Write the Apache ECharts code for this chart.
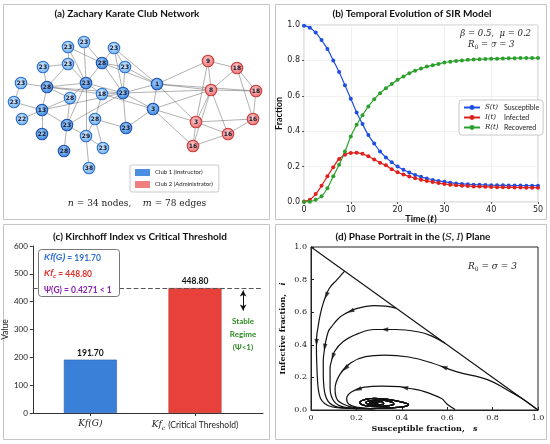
<!DOCTYPE html>
<html><head><meta charset="utf-8">
<script src="https://cdn.jsdelivr.net/npm/echarts@6/dist/echarts.min.js"></script>
<style>html,body{margin:0;padding:0;background:#fff}#c{width:550px;height:444px}</style>
</head><body><div id="c"></div>
<script>
// ---------- (a) network ----------
const nodeLabels = ['23','23','23','23','23','28','23','23','28','23','18','23','1','23','28','13','3','22','28','23','23','22','29','23','28','38','9','18','8','18','3','16','16','16'];
const nodeClub = [0,0,0,0,0,0,0,0,0,0,0,0,0,0,0,0,0,0,0,0,0,0,0,0,0,0,1,1,1,1,1,1,1,1];
const nodeDark = [0,0,0,0,0,1,0,0,1,1,0,1,1,0,0,1,1,0,0,1,1,1,0,0,1,0,0,0,0,0,0,0,0,0];
const layoutX = [84,68,114,43,68,102,125,21,47,86,102,123,157,14,70,42,153,22,95,67,126,42,86,103,64,89,208,237,211,256,196,253,228,193];
const layoutY = [42,47,48,67,64,63,67,83,87,83,94,93,84,102,98,110,109,119,119,125,128,134,136,148,151,168,61,68,90,91,122,119,134,146];
const edges = [[0,5],[0,9],[1,5],[1,9],[1,4],[2,5],[2,6],[2,11],[3,8],[3,4],[4,9],[4,8],[5,6],[5,9],[5,11],[5,12],[6,11],[6,12],[7,8],[7,13],[8,9],[8,14],[8,15],[8,11],[8,10],[9,10],[9,11],[9,14],[9,19],[9,22],[10,11],[10,18],[11,12],[11,16],[11,20],[11,19],[13,15],[14,15],[14,19],[15,17],[15,21],[15,19],[15,11],[18,22],[18,23],[18,20],[19,24],[19,22],[22,25],[22,23],[12,16],[16,20],[16,10],[12,2],
[12,26],[12,28],[12,30],[12,29],[16,28],[16,30],[16,33],[11,28],
[26,28],[26,30],[26,27],[27,28],[27,29],[27,31],[28,29],[28,30],[28,32],[28,33],[29,31],[30,32],[30,33],[31,32],[32,33],[30,31]];
const clubNames = ['Club 1 (Instructor)','Club 2 (Administrator)'];

// ---------- (b) SIR ----------
const timeT = [0,1.25,2.5,3.75,5,6.25,7.5,8.75,10,11.25,12.5,13.75,15,16.25,17.5,18.75,20,21.25,22.5,23.75,25,26.25,27.5,28.75,30,31.25,32.5,33.75,35,36.25,37.5,38.75,40,41.25,42.5,43.75,45,46.25,47.5,48.75,50];
const susS = [0.996,0.985,0.957,0.915,0.865,0.80,0.735,0.66,0.583,0.506,0.44,0.378,0.33,0.286,0.252,0.224,0.2,0.182,0.166,0.153,0.142,0.133,0.125,0.119,0.114,0.109,0.105,0.102,0.1,0.098,0.097,0.096,0.095,0.094,0.094,0.093,0.093,0.093,0.092,0.092,0.092];
const infI = [0.003,0.013,0.045,0.092,0.145,0.197,0.243,0.267,0.277,0.278,0.272,0.258,0.24,0.222,0.207,0.185,0.168,0.155,0.144,0.134,0.126,0.119,0.113,0.107,0.102,0.098,0.095,0.092,0.09,0.088,0.087,0.086,0.085,0.084,0.083,0.083,0.082,0.082,0.081,0.081,0.081];
const recR = [0,0.002,0.013,0.032,0.078,0.145,0.21,0.285,0.37,0.436,0.49,0.54,0.58,0.615,0.643,0.667,0.69,0.709,0.727,0.742,0.754,0.765,0.773,0.78,0.788,0.793,0.797,0.8,0.803,0.805,0.807,0.808,0.809,0.81,0.811,0.812,0.812,0.813,0.813,0.813,0.814];
const sirNames = ['S','I','R'];
const sirLabels = ['Susceptible','Infected','Recovered'];

// ---------- (c) Kirchhoff ----------
const kfCats = ['Kf(G)','Kf_c (Critical Threshold)'];
const kfValues = [191.70, 448.80];
const psiValue = 0.4271;

// ---------- (d) phase portrait ----------
const spiralTail = [[0.26,0.009],[0.32,0.011],[0.38,0.016],[0.42,0.024],[0.43,0.033],[0.41,0.045],[0.37,0.058],[0.32,0.068],[0.28,0.072],[0.25,0.068],[0.225,0.058],[0.215,0.047],[0.22,0.036],[0.24,0.027],[0.27,0.022],[0.31,0.022],[0.345,0.027],[0.365,0.036],[0.36,0.046],[0.34,0.054],[0.31,0.06],[0.28,0.061],[0.255,0.056],[0.242,0.048],[0.245,0.04],[0.26,0.034],[0.28,0.031],[0.305,0.033],[0.32,0.039],[0.318,0.046],[0.305,0.051],[0.285,0.053],[0.268,0.05],[0.26,0.045],[0.264,0.04],[0.276,0.037],[0.29,0.039],[0.295,0.044],[0.288,0.048],[0.276,0.048],[0.27,0.045],[0.273,0.042],[0.28,0.042]];
const curveA = [[0.148,0.852],[0.115,0.8],[0.08,0.745],[0.055,0.66],[0.04,0.58],[0.03,0.5],[0.025,0.45],[0.024,0.38],[0.025,0.3],[0.028,0.2],[0.032,0.13],[0.042,0.07],[0.06,0.04],[0.09,0.02],[0.14,0.012],[0.2,0.009]];
const curveB = [[0.375,0.625],[0.33,0.637],[0.28,0.64],[0.2,0.622],[0.15,0.59],[0.12,0.56],[0.09,0.51],[0.076,0.48],[0.062,0.4],[0.059,0.37],[0.054,0.3],[0.054,0.235],[0.06,0.11],[0.084,0.04],[0.135,0.014],[0.2,0.009]];
const curveC = [[0.59,0.41],[0.53,0.455],[0.47,0.48],[0.37,0.494],[0.28,0.494],[0.21,0.47],[0.142,0.42],[0.103,0.357],[0.09,0.3],[0.084,0.255],[0.084,0.133],[0.103,0.05],[0.15,0.016],[0.2,0.01]];
const curveD = [[0.993,0.006],[0.93,0.07],[0.868,0.12],[0.78,0.185],[0.64,0.235],[0.53,0.29],[0.43,0.325],[0.325,0.337],[0.24,0.327],[0.176,0.29],[0.128,0.22],[0.106,0.13],[0.117,0.06],[0.164,0.024],[0.21,0.012]];
const curveE = [[0.635,0.003],[0.6,0.035],[0.575,0.07],[0.487,0.118],[0.435,0.132],[0.39,0.143],[0.31,0.147],[0.235,0.14],[0.18,0.112],[0.157,0.07],[0.167,0.035],[0.21,0.016]];
const phaseCurves = [curveA, curveB, curveC, curveD, curveE];
// arrows: [curve index, point index]
const arrowSpots = [[0,2],[0,6],[1,3],[1,8],[2,3],[2,7],[3,4],[3,9],[4,4],[4,7]];
const diagonal = [[0,1],[1,0]];

// ---------- build ----------
const chart = echarts.init(document.getElementById('c'), null, {renderer:'canvas'});
const SERIF = "'DejaVu Serif', 'Liberation Serif', serif";
const SANS = "Lato, 'DejaVu Sans', sans-serif";

const nodes = layoutX.map((x,i)=>{
  const red = nodeClub[i]===1;
  const dark = nodeDark[i]===1;
  const inner = red ? '#fbd0d0' : (dark ? '#a9d0f6' : '#d9ecfc');
  const outer = red ? '#ec6c6c' : (dark ? '#3a86de' : '#6aaeee');
  return {
    name:'n'+i, value:[x, layoutY[i]], category: nodeClub[i],
    itemStyle:{color:{type:'radial',x:0.45,y:0.4,r:0.6,colorStops:[{offset:0,color:inner},{offset:1,color:outer}]},
      borderColor: red ? '#c83a3a' : (dark ? '#1b4fae' : '#2b6fd0'), borderWidth:1.1}
  };
});
const links = edges.map(e=>({source:e[0], target:e[1]}));

const sirColors = ['#1f4ee0','#e0201c','#2ca02c'];
const sirData = [susS, infI, recR];
const kfColors = ['#3a7fd8','#e8403a'];

const phaseSeries = phaseCurves.map(c=>({
  type:'line', xAxisIndex:3, yAxisIndex:3, data:c.concat(spiralTail), showSymbol:false, smooth:0.4,
  lineStyle:{color:'#111', width:1.2}, silent:true, z:3
}));

function titleText(text, x, y){
  return {type:'text', x, y, style:{text, textAlign:'center', textVerticalAlign:'middle',
    font:"bold 10px "+SANS, fill:'#111',
    rich:{m:{fontFamily:SERIF, fontStyle:'italic', fontWeight:'normal', fontSize:10}}}};
}

const option = {
  animation:false,
  backgroundColor:'#fff',
  textStyle:{fontFamily:SANS},
  grid:[
    {left:0, top:0, width:267, height:216, show:false},
    {left:304, top:25, width:234, height:177, show:true, borderColor:'#c8c8c8', borderWidth:1},
    {left:31, top:246, width:232, height:167, show:false},
    {left:311, top:247, width:227, height:163, show:true, borderColor:'#222', borderWidth:1}
  ],
  xAxis:[
    {gridIndex:0, type:'value', min:0, max:267, show:false},
    {gridIndex:1, type:'value', min:0, max:50, interval:10,
      name:'Time ({m|t})', nameLocation:'middle', nameGap:13,
      nameTextStyle:{fontWeight:'bold', fontSize:9, color:'#111', rich:{m:{fontFamily:SERIF, fontStyle:'italic', fontWeight:'bold', fontSize:9}}},
      axisLine:{show:false, onZero:false}, axisTick:{show:true, length:2, lineStyle:{color:'#555'}},
      axisLabel:{fontSize:8, color:'#222', margin:4, fontFamily:"'DejaVu Sans', sans-serif"},
      splitLine:{show:true, lineStyle:{color:'#ececec', width:0.8}}},
    {gridIndex:2, type:'value', min:-0.55, max:1.65,
      axisLine:{show:true, onZero:false, lineStyle:{color:'#333'}},
      axisTick:{show:true, customValues:[0,1], length:3},
      axisLabel:{customValues:[0,1], margin:6, color:'#222',
        formatter:v=> Math.abs(v)<1e-6 ? '{m|Kf(G)}' : '{m|Kf}{s|c} {t|(Critical Threshold)}',
        rich:{m:{fontFamily:SERIF, fontStyle:'italic', fontSize:9, color:'#222'},
              s:{fontFamily:SERIF, fontStyle:'italic', fontSize:6, color:'#222', verticalAlign:'bottom', padding:[6,0,0,0]},
              t:{fontFamily:SANS, fontSize:8.5, color:'#222'}}},
      splitLine:{show:false}},
    {gridIndex:3, type:'value', min:0, max:1, interval:0.2,
      name:'Susceptible fraction,   {m|s}', nameLocation:'middle', nameGap:15,
      nameTextStyle:{fontFamily:SERIF, fontWeight:'bold', fontSize:8, color:'#111', rich:{m:{fontFamily:SERIF, fontStyle:'italic', fontWeight:'bold', fontSize:8}}},
      axisLine:{show:true, onZero:false, lineStyle:{color:'#222'}},
      axisTick:{inside:true, length:3, lineStyle:{color:'#222'}},
      axisLabel:{fontFamily:SERIF, fontSize:8, color:'#222', margin:4, formatter:v=> v===0 ? '0' : v.toFixed(1)},
      splitLine:{show:false}}
  ],
  yAxis:[
    {gridIndex:0, type:'value', min:0, max:216, inverse:true, show:false},
    {gridIndex:1, type:'value', min:0, max:1, interval:0.2,
      name:'Fraction', nameLocation:'middle', nameGap:19,
      nameTextStyle:{fontWeight:'bold', fontSize:9, color:'#111'},
      axisLine:{show:false, onZero:false}, axisTick:{show:true, length:2, lineStyle:{color:'#555'}},
      axisLabel:{fontSize:8, color:'#222', margin:4, fontFamily:"'DejaVu Sans', sans-serif", formatter:v=>v.toFixed(1)},
      splitLine:{show:true, lineStyle:{color:'#ececec', width:0.8}}},
    {gridIndex:2, type:'value', min:0, max:600, interval:100,
      name:'Value', nameLocation:'middle', nameGap:21,
      nameTextStyle:{fontSize:8.5, color:'#222'},
      axisLine:{show:true, onZero:false, lineStyle:{color:'#333'}},
      axisTick:{show:true, length:3},
      axisLabel:{fontSize:8, color:'#222', margin:5},
      splitLine:{show:false}},
    {gridIndex:3, type:'value', min:0, max:1, interval:0.2,
      name:'Infective fraction,   {m|i}', nameLocation:'middle', nameGap:24,
      nameTextStyle:{fontFamily:SERIF, fontWeight:'bold', fontSize:8, color:'#111', rich:{m:{fontFamily:SERIF, fontStyle:'italic', fontWeight:'bold', fontSize:8}}},
      axisLine:{show:true, onZero:false, lineStyle:{color:'#222'}},
      axisTick:{inside:true, length:3, lineStyle:{color:'#222'}},
      axisLabel:{fontFamily:SERIF, fontSize:8, color:'#222', margin:4, formatter:v=>v.toFixed(1)},
      splitLine:{show:false}}
  ],
  legend:[
    {data:sirNames, left:459, top:100, orient:'vertical', itemGap:3, itemWidth:16, itemHeight:6,
      padding:[4,4,4,4], borderColor:'#c8c8c8', borderWidth:1, borderRadius:3, backgroundColor:'#fff',
      formatter:n=>'{m|'+n+'(t)}{t|'+sirLabels[sirNames.indexOf(n)]+'}',
      textStyle:{fontSize:7, color:'#222', rich:{m:{fontFamily:SERIF, fontStyle:'italic', fontSize:7, width:19}, t:{fontSize:7, fontFamily:SANS}}}},
    {data:clubNames, left:130, top:165, orient:'vertical', itemGap:5, icon:'rect', itemWidth:15, itemHeight:7,
      padding:[4,6,4,5], borderColor:'#bbb', borderWidth:0.8, borderRadius:2,
      textStyle:{fontSize:6, color:'#222'}}
  ],
  series:[
    {type:'graph', coordinateSystem:'cartesian2d', xAxisIndex:0, yAxisIndex:0, layout:'none',
      symbol:'circle', symbolSize:11.5, roam:false, silent:true,
      categories:[{name:clubNames[0], itemStyle:{color:'#4a8fe2', borderColor:'#2b6fd0'}},{name:clubNames[1], itemStyle:{color:'#f08080', borderColor:'#c83a3a'}}],
      data:nodes, links:links,
      lineStyle:{color:'#5a5a5a', opacity:0.6, width:0.8, curveness:0},
      label:{show:true, position:'inside', fontSize:6, fontWeight:'bold', color:'#14142a', fontFamily:"'DejaVu Sans', sans-serif",
        formatter:p=>nodeLabels[p.dataIndex]},
      z:5},
    ...sirNames.map((n,k)=>({
      type:'line', name:n, xAxisIndex:1, yAxisIndex:1, data:timeT.map((t,i)=>[t, sirData[k][i]]),
      symbol:'circle', symbolSize:4, smooth:0.3, showSymbol:true,
      lineStyle:{color:sirColors[k], width:1.2}, itemStyle:{color:sirColors[k]}, z:3
    })),
    {type:'bar', xAxisIndex:2, yAxisIndex:2, barWidth:53,
      data:kfValues.map((v,i)=>({value:[i,v], itemStyle:{color:kfColors[i], borderColor: i===0?'#2a62b0':'#b83028', borderWidth:0.6}})),
      label:{show:true, position:'top', distance:2, fontWeight:'bold', fontSize:8.5, color:'#111', formatter:p=>p.value[1].toFixed(2)},
      markLine:{silent:true, symbol:['none','none'], label:{show:false},
        lineStyle:{type:'dashed', color:'#555', width:1.2},
        data:[{yAxis:kfValues[1]}]}},
    {type:'line', xAxisIndex:2, yAxisIndex:2, data:[], silent:true,
      markLine:{silent:true, symbol:['arrow','arrow'], symbolSize:[5,6], label:{show:false},
        lineStyle:{type:'solid', color:'#111', width:1},
        data:[[{coord:[1.46,440]},{coord:[1.46,368]}]]}},
    {type:'line', xAxisIndex:3, yAxisIndex:3, data:diagonal, showSymbol:false, lineStyle:{color:'#111', width:1.1}, silent:true},
    ...phaseSeries
  ],
  graphic:[
    {type:'rect', shape:{x:3.5,y:4.5,width:266,height:215}, style:{fill:'none', stroke:'#c4c4c4', lineWidth:1}, silent:true},
    {type:'rect', shape:{x:275.5,y:4.5,width:271,height:215}, style:{fill:'none', stroke:'#c4c4c4', lineWidth:1}, silent:true},
    {type:'rect', shape:{x:3.5,y:224.5,width:266,height:215}, style:{fill:'none', stroke:'#c4c4c4', lineWidth:1}, silent:true},
    {type:'rect', shape:{x:275.5,y:224.5,width:271,height:215}, style:{fill:'none', stroke:'#c4c4c4', lineWidth:1}, silent:true},
    titleText('(a) Zachary Karate Club Network', 127, 14),
    titleText('(b) Temporal Evolution of SIR Model', 412, 14),
    titleText('(c) Kirchhoff Index vs Critical Threshold', 140, 237),
    titleText('(d) Phase Portrait in the ({m|S}, {m|I}) Plane', 413, 237),
    {type:'text', x:137, y:204, style:{text:'{m|n} = 34 nodes,    {m|m} = 78 edges', textAlign:'center', textVerticalAlign:'middle',
      font:"9px "+SERIF, fill:'#222', rich:{m:{fontFamily:SERIF, fontStyle:'italic', fontSize:9.5}}}},
    {type:'text', x:531, y:34, style:{text:'β = 0.5,  μ = 0.2', textAlign:'right', textVerticalAlign:'middle',
      font:"italic 8.5px "+SERIF, fill:'#222'}},
    {type:'text', x:468, y:45, style:{text:'{m|R}{s|0}{m| = σ = 3}', textAlign:'left', textVerticalAlign:'middle',
      fill:'#222', rich:{m:{fontFamily:SERIF, fontStyle:'italic', fontSize:8.5}, s:{fontFamily:SERIF, fontSize:6, padding:[5,0,0,0]}}}},
    {type:'text', x:468, y:267, style:{text:'{m|R}{s|0}{m| = σ = 3}', textAlign:'left', textVerticalAlign:'middle',
      fill:'#222', rich:{m:{fontFamily:SERIF, fontStyle:'italic', fontSize:9}, s:{fontFamily:SERIF, fontSize:6, padding:[5,0,0,0]}}}},
    {type:'rect', shape:{x:38.5,y:249.5,width:81,height:47,r:3}, style:{fill:'#fff', stroke:'#777', lineWidth:1}, z:10},
    {type:'text', x:44, y:258, z:11, style:{text:'{i|Kf(G)} = '+kfValues[0].toFixed(2), textVerticalAlign:'middle',
      font:"bold 8.5px "+SANS, fill:'#2f6fd0', rich:{i:{fontStyle:'italic', fontWeight:'bold', fontSize:8.5, fill:'#2f6fd0'}}}},
    {type:'text', x:44, y:274, z:11, style:{text:'{i|Kf}{s|c} = '+kfValues[1].toFixed(2), textVerticalAlign:'middle',
      font:"bold 8.5px "+SANS, fill:'#e0302c', rich:{i:{fontStyle:'italic', fontWeight:'bold', fontSize:8.5, fill:'#e0302c'}, s:{fontStyle:'italic', fontWeight:'bold', fontSize:6, fill:'#e0302c', padding:[5,0,0,0]}}}},
    {type:'text', x:44, y:290, z:11, style:{text:'Ψ(G) = '+psiValue.toFixed(4)+' < 1', textVerticalAlign:'middle',
      font:"bold 8.5px "+SANS, fill:'#8a24b0'}},
    {type:'text', x:243, y:334, style:{text:'Stable\nRegime\n(Ψ<1)', textAlign:'center', textVerticalAlign:'middle', lineHeight:13,
      font:"bold 8px "+SANS, fill:'#2e8b22'}}
  ]
};
chart.setOption(option);

// arrows on phase trajectories, oriented along the curve direction
const arrowData = arrowSpots.map(([ci,pi])=>{
  const c = phaseCurves[ci];
  const p0 = chart.convertToPixel({gridIndex:3}, c[pi]);
  const p1 = chart.convertToPixel({gridIndex:3}, c[pi+1]);
  const dx = p1[0]-p0[0], dy = p1[1]-p0[1];
  const rot = Math.atan2(-dx, -dy)*180/Math.PI;
  return {value:[(c[pi][0]+c[pi+1][0])/2, (c[pi][1]+c[pi+1][1])/2], symbolRotate:rot};
});
chart.setOption({series: option.series.concat([{type:'scatter', xAxisIndex:3, yAxisIndex:3, symbol:'triangle', symbolSize:[4.5,7],
  itemStyle:{color:'#111'}, data:arrowData, silent:true, z:6}])});
</script></body></html>
